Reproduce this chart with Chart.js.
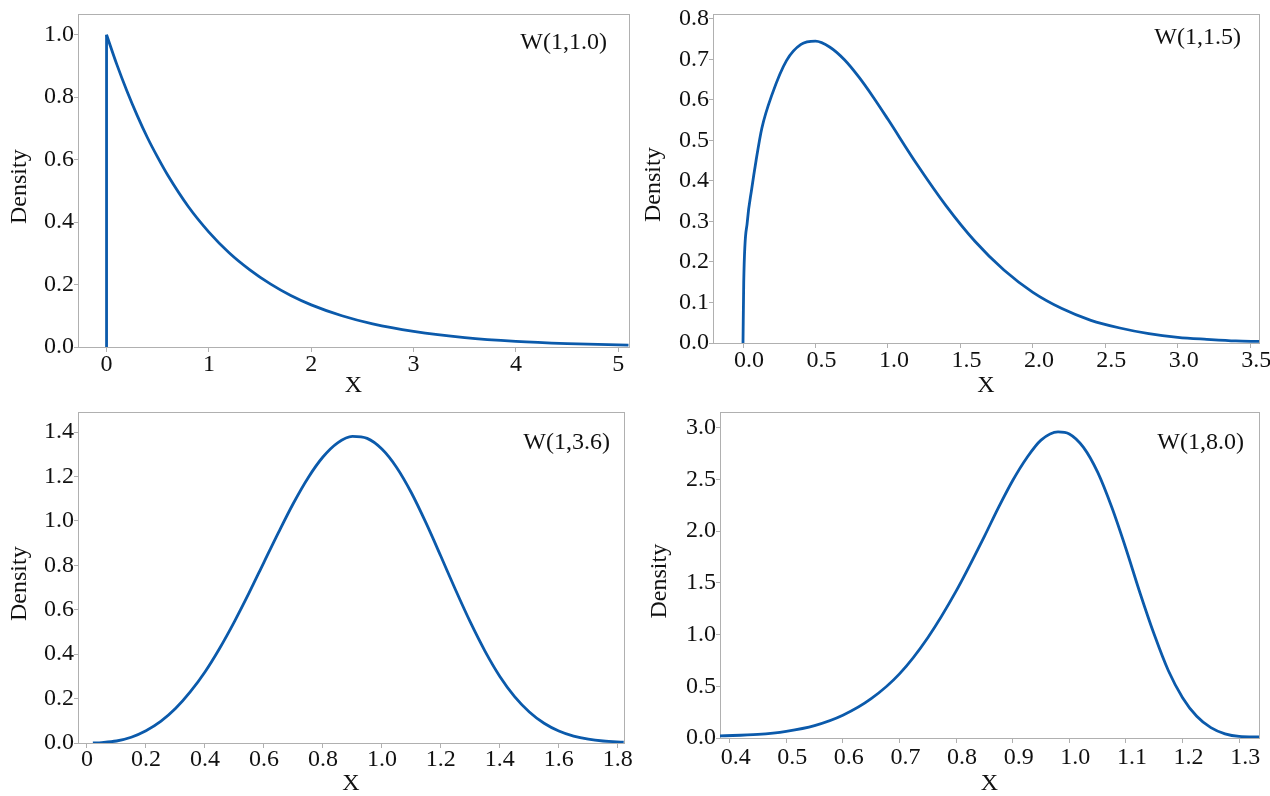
<!DOCTYPE html>
<html>
<head>
<meta charset="utf-8">
<script src="https://cdn.jsdelivr.net/npm/chart.js@4.4.1/dist/chart.umd.min.js"></script>
<style>
  body { margin: 0; background: #fff; width: 1270px; height: 796px; position: relative; overflow: hidden; }
  canvas { position: absolute; }
</style>
</head>
<body>
<canvas id="w10" width="640" height="398" style="left:0;top:0"></canvas>
<canvas id="w15" width="630" height="398" style="left:640px;top:0"></canvas>
<canvas id="w36" width="640" height="398" style="left:0;top:398px"></canvas>
<canvas id="w80" width="630" height="398" style="left:640px;top:398px"></canvas>
<script>
// Weibull densities, values
const labels = ['W(1,1.0)', 'W(1,1.5)', 'W(1,3.6)', 'W(1,8.0)'];

const x10 = [0, 0.1, 0.2, 0.3, 0.4, 0.5, 0.6, 0.8, 1.0, 1.2, 1.4, 1.6, 1.8, 2.0, 2.3, 2.6, 3.0, 3.5, 4.0, 4.5, 5.1];
const y10 = [1.0, 0.905, 0.819, 0.741, 0.670, 0.607, 0.549, 0.449, 0.368, 0.301, 0.247, 0.202, 0.165, 0.135, 0.100, 0.074, 0.050, 0.030, 0.018, 0.011, 0.006];

const x15 = [0, 0.005, 0.03, 0.06, 0.09, 0.13, 0.2, 0.3, 0.4, 0.5, 0.6, 0.7, 0.8, 0.9, 1.0, 1.2, 1.4, 1.6, 1.8, 2.0, 2.2, 2.4, 2.6, 2.8, 3.0, 3.2, 3.4, 3.56];
const y15 = [0, 0.15, 0.30, 0.38, 0.45, 0.53, 0.613, 0.697, 0.737, 0.745, 0.730, 0.699, 0.656, 0.606, 0.552, 0.441, 0.339, 0.251, 0.180, 0.125, 0.085, 0.056, 0.037, 0.023, 0.014, 0.009, 0.005, 0.004];

const x36 = [0.02, 0.05, 0.1, 0.15, 0.2, 0.25, 0.3, 0.35, 0.4, 0.45, 0.5, 0.55, 0.6, 0.65, 0.7, 0.75, 0.8, 0.85, 0.9, 0.95, 1.0, 1.05, 1.1, 1.15, 1.2, 1.25, 1.3, 1.35, 1.4, 1.45, 1.5, 1.55, 1.6, 1.65, 1.7, 1.75, 1.82];
const y36 = [0.0, 0.002, 0.009, 0.026, 0.055, 0.097, 0.155, 0.230, 0.320, 0.427, 0.547, 0.677, 0.814, 0.950, 1.080, 1.195, 1.288, 1.352, 1.381, 1.372, 1.324, 1.241, 1.127, 0.990, 0.841, 0.689, 0.544, 0.413, 0.300, 0.209, 0.140, 0.089, 0.054, 0.031, 0.017, 0.009, 0.004];

const x80 = [0.383, 0.45, 0.5, 0.55, 0.6, 0.65, 0.7, 0.75, 0.8, 0.85, 0.875, 0.9, 0.925, 0.95, 0.98, 1.0, 1.025, 1.05, 1.075, 1.1, 1.125, 1.15, 1.175, 1.2, 1.225, 1.25, 1.275, 1.3, 1.335];
const y80 = [0.02, 0.035, 0.065, 0.12, 0.22, 0.38, 0.62, 0.97, 1.42, 1.95, 2.23, 2.49, 2.71, 2.88, 2.96, 2.94, 2.81, 2.57, 2.23, 1.83, 1.40, 1.00, 0.65, 0.39, 0.21, 0.10, 0.04, 0.015, 0.01];

const xTicks10 = [0, 1, 2, 3, 4, 5];
const yTicks10 = [0, 0.2, 0.4, 0.6, 0.8, 1.0];
const xTicks15 = [0, 0.5, 1.0, 1.5, 2.0, 2.5, 3.0, 3.5];
const yTicks15 = [0, 0.1, 0.2, 0.3, 0.4, 0.5, 0.6, 0.7, 0.8];
const xTicks36 = [0, 0.2, 0.4, 0.6, 0.8, 1.0, 1.2, 1.4, 1.6, 1.8];
const yTicks36 = [0, 0.2, 0.4, 0.6, 0.8, 1.0, 1.2, 1.4];
const xTicks80 = [0.4, 0.5, 0.6, 0.7, 0.8, 0.9, 1.0, 1.1, 1.2, 1.3];
const yTicks80 = [0, 0.5, 1.0, 1.5, 2.0, 2.5, 3.0];

const LINE = '#0b5aab';
const AXIS = '#b0b0b0';
const SERIF = '"Liberation Serif", "Times New Roman", serif';

const framePlugin = {
    id: 'frame',
    beforeDatasetsDraw(chart) {
        const { ctx, chartArea: a } = chart;
        ctx.save();
        ctx.strokeStyle = AXIS;
        ctx.lineWidth = 1;
        ctx.strokeRect(Math.round(a.left) + 0.5, Math.round(a.top) + 0.5,
            Math.round(a.right - a.left), Math.round(a.bottom - a.top));
        ctx.restore();
    },
    afterDraw(chart, args, opts) {
        const { ctx, chartArea: a } = chart;
        ctx.save();
        ctx.font = '24px ' + SERIF;
        ctx.fillStyle = '#111';
        ctx.textAlign = 'right';
        ctx.textBaseline = 'middle';
        ctx.fillText(opts.label, a.right - opts.dx, a.top + opts.dy);
        ctx.restore();
    }
};

function points(xs, ys) {
    return xs.map((x, i) => ({ x, y: ys[i] }));
}

function makePanel(id, p) {
    const datasets = [{
        data: points(p.xs, p.ys),
        borderColor: LINE,
        borderWidth: 2.8,
        pointRadius: 0,
        cubicInterpolationMode: 'monotone'
    }];
    if (p.edge) {
        datasets.push({
            data: [{ x: p.xs[0], y: 0 }, { x: p.xs[0], y: p.ys[0] }],
            borderColor: LINE,
            borderWidth: 2.8,
            pointRadius: 0
        });
    }

    const tickFont = { family: SERIF, size: 24 };
    const titleFont = { family: SERIF, size: 24, lineHeight: 1 };

    return new Chart(document.getElementById(id), {
        type: 'line',
        data: { datasets },
        plugins: [framePlugin],
        options: {
            responsive: false,
            animation: false,
            layout: { padding: { top: p.padTop, right: p.padRight, left: 0, bottom: 0 } },
            plugins: {
                legend: { display: false },
                tooltip: { enabled: false },
                frame: { label: p.label, dx: p.labelDx, dy: p.labelDy }
            },
            scales: {
                x: {
                    type: 'linear',
                    min: p.xMin,
                    max: p.xMax,
                    afterBuildTicks: s => { s.ticks = p.xTicks.map(v => ({ value: v })); },
                    afterFit: s => { s.height = p.xHeight; },
                    grid: { drawOnChartArea: false, tickLength: 5, color: AXIS },
                    border: { color: AXIS },
                    ticks: {
                        font: tickFont,
                        color: '#111',
                        padding: p.tickPad,
                        labelOffset: p.labelShift,
                        maxRotation: 0,
                        autoSkip: false,
                        callback: p.xFmt
                    },
                    title: { display: true, text: 'X', font: titleFont, color: '#111', padding: 0 }
                },
                y: {
                    type: 'linear',
                    min: p.yMin,
                    max: p.yMax,
                    afterBuildTicks: s => { s.ticks = p.yTicks.map(v => ({ value: v })); },
                    afterFit: s => { s.width = p.yWidth; },
                    grid: { drawOnChartArea: false, tickLength: 4, color: AXIS },
                    border: { color: AXIS },
                    ticks: {
                        font: tickFont,
                        color: '#111',
                        padding: 0,
                        autoSkip: false,
                        callback: v => v.toFixed(1)
                    },
                    title: { display: true, text: 'Density  ', font: titleFont, color: '#111', padding: { top: p.titlePad, bottom: 0 } }
                }
            }
        }
    });
}

makePanel('w10', {
    xs: x10, ys: y10, edge: true, label: labels[0], labelDx: 22, labelDy: 28,
    xTicks: xTicks10, yTicks: yTicks10, xMin: -0.279, xMax: 5.105, yMin: 0, yMax: 1.065,
    xFmt: v => String(v), tickPad: -2, labelShift: 0,
    padTop: 6, padRight: 11, yWidth: 78, xHeight: 51, titlePad: 8
});

makePanel('w15', {
    xs: x15, ys: y15, label: labels[1], labelDx: 18, labelDy: 23,
    xTicks: xTicks15, yTicks: yTicks15, xMin: -0.207, xMax: 3.56, yMin: 0, yMax: 0.811,
    xFmt: v => v.toFixed(1), tickPad: -2, labelShift: 6,
    padTop: 9, padRight: 11, yWidth: 73, xHeight: 55, titlePad: 2
});

makePanel('w36', {
    xs: x36, ys: y36, label: labels[2], labelDx: 14, labelDy: 30,
    xTicks: xTicks36, yTicks: yTicks36, xMin: -0.0305, xMax: 1.821, yMin: 0, yMax: 1.489,
    xFmt: v => (v === 0 ? '0' : v.toFixed(1)), tickPad: -3, labelShift: 0,
    padTop: 7, padRight: 16, yWidth: 78, xHeight: 53, titlePad: 8
});

makePanel('w80', {
    xs: x80, ys: y80, label: labels[3], labelDx: 15, labelDy: 30,
    xTicks: xTicks80, yTicks: yTicks80, xMin: 0.383, xMax: 1.335, yMin: 0, yMax: 3.148,
    xFmt: v => v.toFixed(1), tickPad: 0, labelShift: 6,
    padTop: 7, padRight: 11, yWidth: 80, xHeight: 58, titlePad: 8
});
</script>
</body>
</html>
